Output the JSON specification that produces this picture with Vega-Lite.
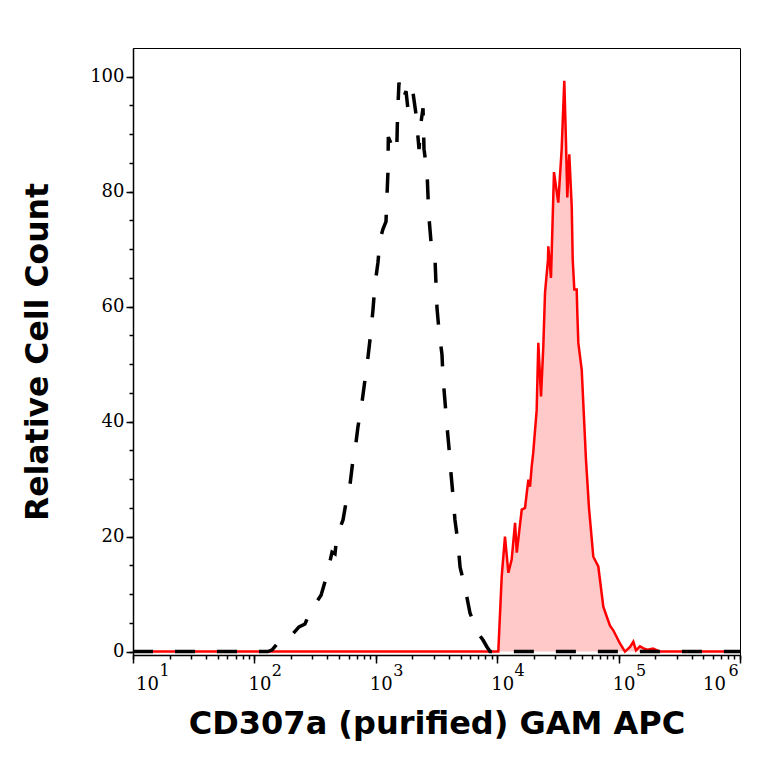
{
  "$schema": "https://vega.github.io/schema/vega-lite/v6.json",
  "width": 607,
  "height": 607,
  "autosize": {"type": "none"},
  "padding": {"left": 133, "top": 48, "right": 24, "bottom": 109},
  "background": "white",
  "config": {
    "view": {"stroke": "#000", "strokeWidth": 1},
    "axis": {
      "grid": false,
      "domainColor": "#000",
      "domainWidth": 1.5,
      "tickColor": "#000",
      "tickWidth": 1.5,
      "labelColor": "#000",
      "labelFont": "DejaVu Serif",
      "labelFontSize": 18,
      "titleColor": "#000",
      "titleFont": "DejaVu Sans",
      "titleFontWeight": "bold",
      "labelOverlap": false,
      "labelFlush": false
    }
  },
  "data": {
    "values": [
      {"series": "control", "intensity": 10, "count": 0},
      {"series": "control", "intensity": 129, "count": 0},
      {"series": "control", "intensity": 140, "count": 0.3},
      {"series": "control", "intensity": 156, "count": 1.5},
      {"series": "control", "intensity": 172, "count": 1.5},
      {"series": "control", "intensity": 196, "count": 2.5},
      {"series": "control", "intensity": 233, "count": 4.3},
      {"series": "control", "intensity": 261, "count": 4.8},
      {"series": "control", "intensity": 287, "count": 6.9},
      {"series": "control", "intensity": 322, "count": 8.5},
      {"series": "control", "intensity": 354, "count": 9.8},
      {"series": "control", "intensity": 396, "count": 13.3},
      {"series": "control", "intensity": 436, "count": 17.3},
      {"series": "control", "intensity": 461, "count": 17.0},
      {"series": "control", "intensity": 479, "count": 20.3},
      {"series": "control", "intensity": 507, "count": 21.5},
      {"series": "control", "intensity": 537, "count": 22.9},
      {"series": "control", "intensity": 579, "count": 26.9},
      {"series": "control", "intensity": 613, "count": 29},
      {"series": "control", "intensity": 649, "count": 33.4},
      {"series": "control", "intensity": 674, "count": 35},
      {"series": "control", "intensity": 713, "count": 39.1},
      {"series": "control", "intensity": 769, "count": 43.3},
      {"series": "control", "intensity": 815, "count": 47.3},
      {"series": "control", "intensity": 863, "count": 51.3},
      {"series": "control", "intensity": 912, "count": 55.7},
      {"series": "control", "intensity": 948, "count": 59.5},
      {"series": "control", "intensity": 984, "count": 63.8},
      {"series": "control", "intensity": 1042, "count": 67.7},
      {"series": "control", "intensity": 1083, "count": 71.7},
      {"series": "control", "intensity": 1146, "count": 73.5},
      {"series": "control", "intensity": 1213, "count": 74.8},
      {"series": "control", "intensity": 1236, "count": 79.2},
      {"series": "control", "intensity": 1259, "count": 83.4},
      {"series": "control", "intensity": 1268, "count": 89.5},
      {"series": "control", "intensity": 1359, "count": 88},
      {"series": "control", "intensity": 1487, "count": 86.8},
      {"series": "control", "intensity": 1510, "count": 93.2},
      {"series": "control", "intensity": 1552, "count": 99.0},
      {"series": "control", "intensity": 1614, "count": 96},
      {"series": "control", "intensity": 1675, "count": 96},
      {"series": "control", "intensity": 1774, "count": 97.5},
      {"series": "control", "intensity": 1841, "count": 94.3},
      {"series": "control", "intensity": 1914, "count": 96},
      {"series": "control", "intensity": 2023, "count": 97.3},
      {"series": "control", "intensity": 2143, "count": 93.5},
      {"series": "control", "intensity": 2270, "count": 87.4},
      {"series": "control", "intensity": 2355, "count": 92},
      {"series": "control", "intensity": 2449, "count": 94.5},
      {"series": "control", "intensity": 2495, "count": 87.4},
      {"series": "control", "intensity": 2642, "count": 83.5},
      {"series": "control", "intensity": 2692, "count": 79.2},
      {"series": "control", "intensity": 2742, "count": 75.5},
      {"series": "control", "intensity": 2851, "count": 71.2},
      {"series": "control", "intensity": 3076, "count": 68.2},
      {"series": "control", "intensity": 3133, "count": 63.8},
      {"series": "control", "intensity": 3192, "count": 59.8},
      {"series": "control", "intensity": 3319, "count": 55.7},
      {"series": "control", "intensity": 3508, "count": 51.7},
      {"series": "control", "intensity": 3581, "count": 47.6},
      {"series": "control", "intensity": 3715, "count": 43.5},
      {"series": "control", "intensity": 3864, "count": 39.1},
      {"series": "control", "intensity": 4009, "count": 35.4},
      {"series": "control", "intensity": 4083, "count": 33},
      {"series": "control", "intensity": 4159, "count": 31.1},
      {"series": "control", "intensity": 4325, "count": 27.1},
      {"series": "control", "intensity": 4487, "count": 22.9},
      {"series": "control", "intensity": 4753, "count": 18.9},
      {"series": "control", "intensity": 4943, "count": 14.7},
      {"series": "control", "intensity": 5433, "count": 11.1},
      {"series": "control", "intensity": 5970, "count": 6.7},
      {"series": "control", "intensity": 6561, "count": 4.5},
      {"series": "control", "intensity": 6950, "count": 3.2},
      {"series": "control", "intensity": 7638, "count": 2},
      {"series": "control", "intensity": 8241, "count": 0.8},
      {"series": "control", "intensity": 8730, "count": 0},
      {"series": "control", "intensity": 1000000, "count": 0},
      {"series": "stained", "intensity": 10, "count": 0},
      {"series": "stained", "intensity": 9960, "count": 0},
      {"series": "stained", "intensity": 10210, "count": 0},
      {"series": "stained", "intensity": 10890, "count": 13},
      {"series": "stained", "intensity": 11590, "count": 20},
      {"series": "stained", "intensity": 12360, "count": 13.7},
      {"series": "stained", "intensity": 13160, "count": 16},
      {"series": "stained", "intensity": 14030, "count": 22.4},
      {"series": "stained", "intensity": 14490, "count": 17.2},
      {"series": "stained", "intensity": 15930, "count": 24.7},
      {"series": "stained", "intensity": 16950, "count": 25},
      {"series": "stained", "intensity": 18050, "count": 29.9},
      {"series": "stained", "intensity": 18640, "count": 28.7},
      {"series": "stained", "intensity": 19240, "count": 32.2},
      {"series": "stained", "intensity": 19810, "count": 34.6},
      {"series": "stained", "intensity": 21140, "count": 42},
      {"series": "stained", "intensity": 21810, "count": 53.7},
      {"series": "stained", "intensity": 22960, "count": 44.4},
      {"series": "stained", "intensity": 23980, "count": 53.1},
      {"series": "stained", "intensity": 24770, "count": 62.4},
      {"series": "stained", "intensity": 26200, "count": 68.2},
      {"series": "stained", "intensity": 26350, "count": 70.5},
      {"series": "stained", "intensity": 27740, "count": 65},
      {"series": "stained", "intensity": 29360, "count": 83.4},
      {"series": "stained", "intensity": 31860, "count": 78.1},
      {"series": "stained", "intensity": 33970, "count": 87.4},
      {"series": "stained", "intensity": 35700, "count": 99.3},
      {"series": "stained", "intensity": 36870, "count": 88.6},
      {"series": "stained", "intensity": 37780, "count": 79},
      {"series": "stained", "intensity": 39250, "count": 86.5},
      {"series": "stained", "intensity": 41090, "count": 77.5},
      {"series": "stained", "intensity": 41880, "count": 68.2},
      {"series": "stained", "intensity": 43170, "count": 63},
      {"series": "stained", "intensity": 45170, "count": 63},
      {"series": "stained", "intensity": 45690, "count": 59},
      {"series": "stained", "intensity": 46580, "count": 53.7},
      {"series": "stained", "intensity": 49690, "count": 49},
      {"series": "stained", "intensity": 53850, "count": 33.4},
      {"series": "stained", "intensity": 57020, "count": 25},
      {"series": "stained", "intensity": 61900, "count": 16.5},
      {"series": "stained", "intensity": 68050, "count": 14.8},
      {"series": "stained", "intensity": 74830, "count": 7.8},
      {"series": "stained", "intensity": 79810, "count": 6.1},
      {"series": "stained", "intensity": 84930, "count": 4.5},
      {"series": "stained", "intensity": 90370, "count": 3.7},
      {"series": "stained", "intensity": 102600, "count": 1.4},
      {"series": "stained", "intensity": 112900, "count": 0},
      {"series": "stained", "intensity": 124200, "count": 0.8},
      {"series": "stained", "intensity": 132200, "count": 1.7},
      {"series": "stained", "intensity": 139100, "count": 0.2},
      {"series": "stained", "intensity": 150000, "count": 0.9},
      {"series": "stained", "intensity": 158900, "count": 0.6},
      {"series": "stained", "intensity": 174700, "count": 0.3},
      {"series": "stained", "intensity": 192000, "count": 0.5},
      {"series": "stained", "intensity": 219300, "count": 0},
      {"series": "stained", "intensity": 1000000, "count": 0}
    ]
  },
  "layer": [
    {
      "transform": [{"filter": "datum.series == 'stained'"}],
      "mark": {
        "type": "area",
        "color": "#ffc9c9",
        "fillOpacity": 1,
        "line": {"color": "#ff0000", "strokeWidth": 2.5}
      },
      "encoding": {
        "x": {
          "field": "intensity",
          "type": "quantitative",
          "scale": {"type": "log", "domain": [10, 1000000], "nice": false},
          "axis": {
            "orient": "bottom",
            "values": [10, 100, 1000, 10000, 100000, 1000000],
            "tickSize": 8,
            "labelExpr": "'10'",
            "labelBaseline": "alphabetic",
            "labelPadding": 26,
            "labelOffset": {
              "condition": [
                {"test": "datum.value == 10", "value": 14},
                {"test": "datum.value == 1000000", "value": -26}
              ],
              "value": 5
            },
            "title": "CD307a (purified) GAM APC",
            "titleFontSize": 32,
            "titleBaseline": "alphabetic",
            "titleY": 78
          }
        },
        "y": {
          "field": "count",
          "type": "quantitative",
          "scale": {"domain": [-0.6, 105], "nice": false, "zero": false},
          "axis": {
            "orient": "left",
            "values": [0, 20, 40, 60, 80, 100],
            "tickSize": 7,
            "labelPadding": 2,
            "title": "Relative Cell Count",
            "titleFontSize": 31.5,
            "titleBaseline": "alphabetic",
            "titleX": -86
          }
        }
      }
    },
    {
      "transform": [{"filter": "datum.series == 'control'"}],
      "mark": {
        "type": "line",
        "color": "#000",
        "strokeWidth": 3.5,
        "strokeDash": [20, 22]
      },
      "encoding": {
        "x": {
          "field": "intensity",
          "type": "quantitative",
          "axis": {
            "orient": "bottom",
            "values": [10, 20, 30, 40, 50, 60, 70, 80, 90, 100, 200, 300, 400, 500, 600, 700, 800, 900, 1000, 2000, 3000, 4000, 5000, 6000, 7000, 8000, 9000, 10000, 20000, 30000, 40000, 50000, 60000, 70000, 80000, 90000, 100000, 200000, 300000, 400000, 500000, 600000, 700000, 800000, 900000, 1000000],
            "tickSize": 4,
            "domain": false,
            "labelExpr": "abs(log(datum.value)/LN10 - round(log(datum.value)/LN10)) < 0.000001 ? '' + round(log(datum.value)/LN10) : ''",
            "labelFontSize": 16,
            "labelBaseline": "alphabetic",
            "labelPadding": 16,
            "labelOffset": {
              "condition": [
                {"test": "datum.value == 10", "value": 31},
                {"test": "datum.value == 1000000", "value": -7}
              ],
              "value": 22
            },
            "title": null
          }
        },
        "y": {
          "field": "count",
          "type": "quantitative",
          "axis": {
            "orient": "left",
            "values": [0, 5, 10, 15, 20, 25, 30, 35, 40, 45, 50, 55, 60, 65, 70, 75, 80, 85, 90, 95, 100],
            "tickSize": 4,
            "domain": false,
            "labels": false,
            "title": null
          }
        }
      }
    }
  ],
  "resolve": {"axis": {"x": "independent", "y": "independent"}}
}
